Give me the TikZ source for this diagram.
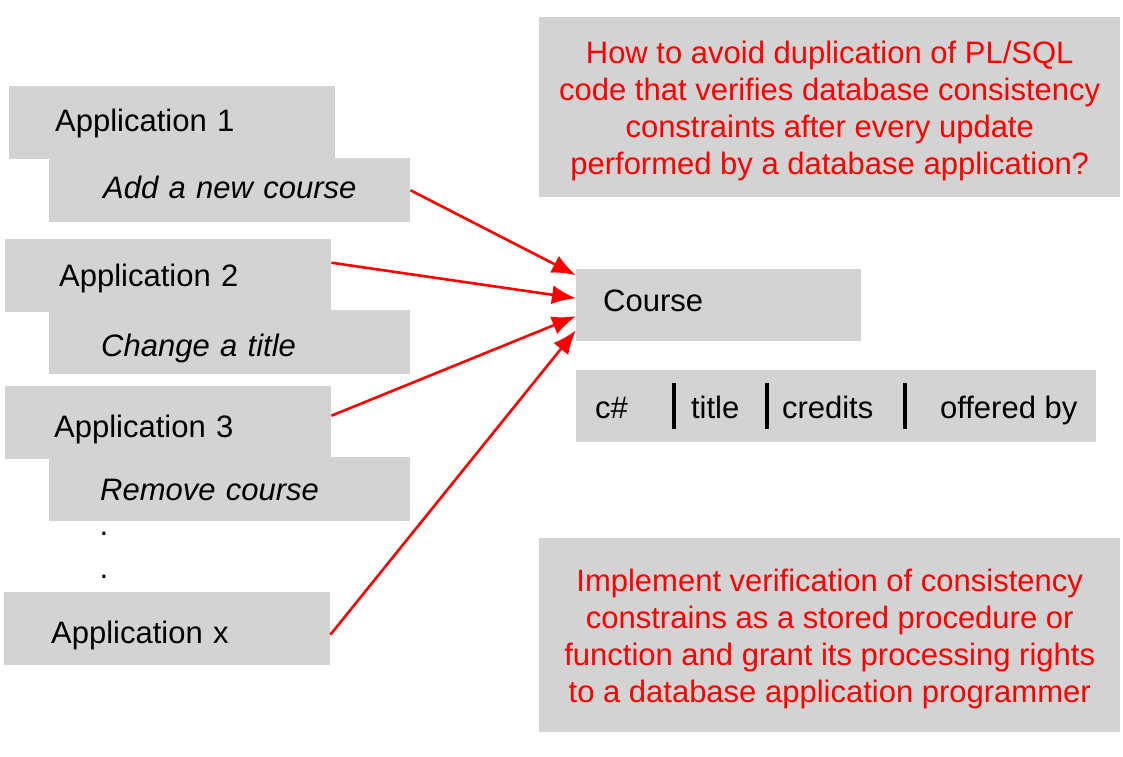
\documentclass[tikz,border=0pt]{standalone}
\usepackage{fontspec}
\setmainfont{Liberation Sans}
\usetikzlibrary{arrows.meta}
\definecolor{boxgray}{RGB}{211,211,211}
\newcommand\fieldbar{\rule[-11pt]{4pt}{46pt}}
\newcommand\topstrut{\rule{0pt}{30pt}}

\begin{document}
\fontsize{31}{37}\selectfont
\begin{tikzpicture}[x=1pt, y=-1pt, >={Latex[length=24pt,width=19pt]},
  every node/.style={fill=boxgray, anchor=north west, inner ysep=0pt},
  drop/.style={text height=#1, text depth=7pt},
  appbox/.style={minimum height=73pt, inner xsep=46pt, text width=234pt, align=left},
  taskbox/.style={minimum height=64pt, inner xsep=51pt, text width=259pt, align=left, font=\itshape},
  notebox/.style={minimum width=581pt, text=red, align=center},
  dot/.style={fill=none, anchor=center, inner sep=0pt},
  link/.style={->, red, line width=2.6pt}]
\useasboundingbox (0,0) rectangle (1123,756);
% applications and what they do
\node (app1) [appbox, drop=25pt] at (9,86) {Application 1};
\node (newcourse) [taskbox, drop=24pt] at (49,158) {\hspace*{3pt}Add a new course};
\node (app2) [appbox, drop=29pt] at (5,239) {\hspace*{8pt}Application 2};
\node (chtitle) [taskbox, drop=36pt] at (49,310) {\hspace*{1pt}Change a title};
\node (app3) [appbox, drop=36pt] at (5,386) {\hspace*{3pt}Application 3};
\node (rmcourse) [taskbox, drop=29pt] at (49,457) {Remove course};
\node (dota) [dot] at (104,534) {.};
\node (dotb) [dot] at (104,577) {.};
\node (appx) [appbox, drop=37pt] at (4,592) {\hspace*{1pt}Application x};
% the relation
\node (course) [drop=20pt, minimum height=72pt, inner xsep=27pt, text width=231pt, align=left] at (576,269) {Course};
\node (attrs) [minimum width=520pt, minimum height=72pt, inner xsep=18pt] at (576,370)
  {\makebox[77pt][l]{c\#}\fieldbar\hspace{15pt}\makebox[74pt][l]{title}\fieldbar\hspace{13pt}\makebox[121pt][l]{credits}\fieldbar\hspace{33pt}offered by};
% question and answer
\node (question) [notebox, minimum height=180pt] at (539,17)
  {\topstrut How to avoid duplication of PL/SQL\\code that verifies database consistency\\constraints after every update\\performed by a database application?};
\node (answer) [notebox, minimum height=194pt] at (539,538)
  {\topstrut Implement verification of consistency\\constrains as a stored procedure or\\function and grant its processing rights\\ to a database application programmer};
\draw[link] (newcourse.east) -- ([yshift=30pt]course.west);
\draw[link] ([yshift=13pt]app2.east) -- ([yshift=7pt]course.west);
\draw[link] ([yshift=7pt]app3.east) -- ([yshift=-11pt]course.west);
\draw[link] ([yshift=-6pt]appx.east) -- ([yshift=-25pt]course.west);
\end{tikzpicture}
\end{document}
